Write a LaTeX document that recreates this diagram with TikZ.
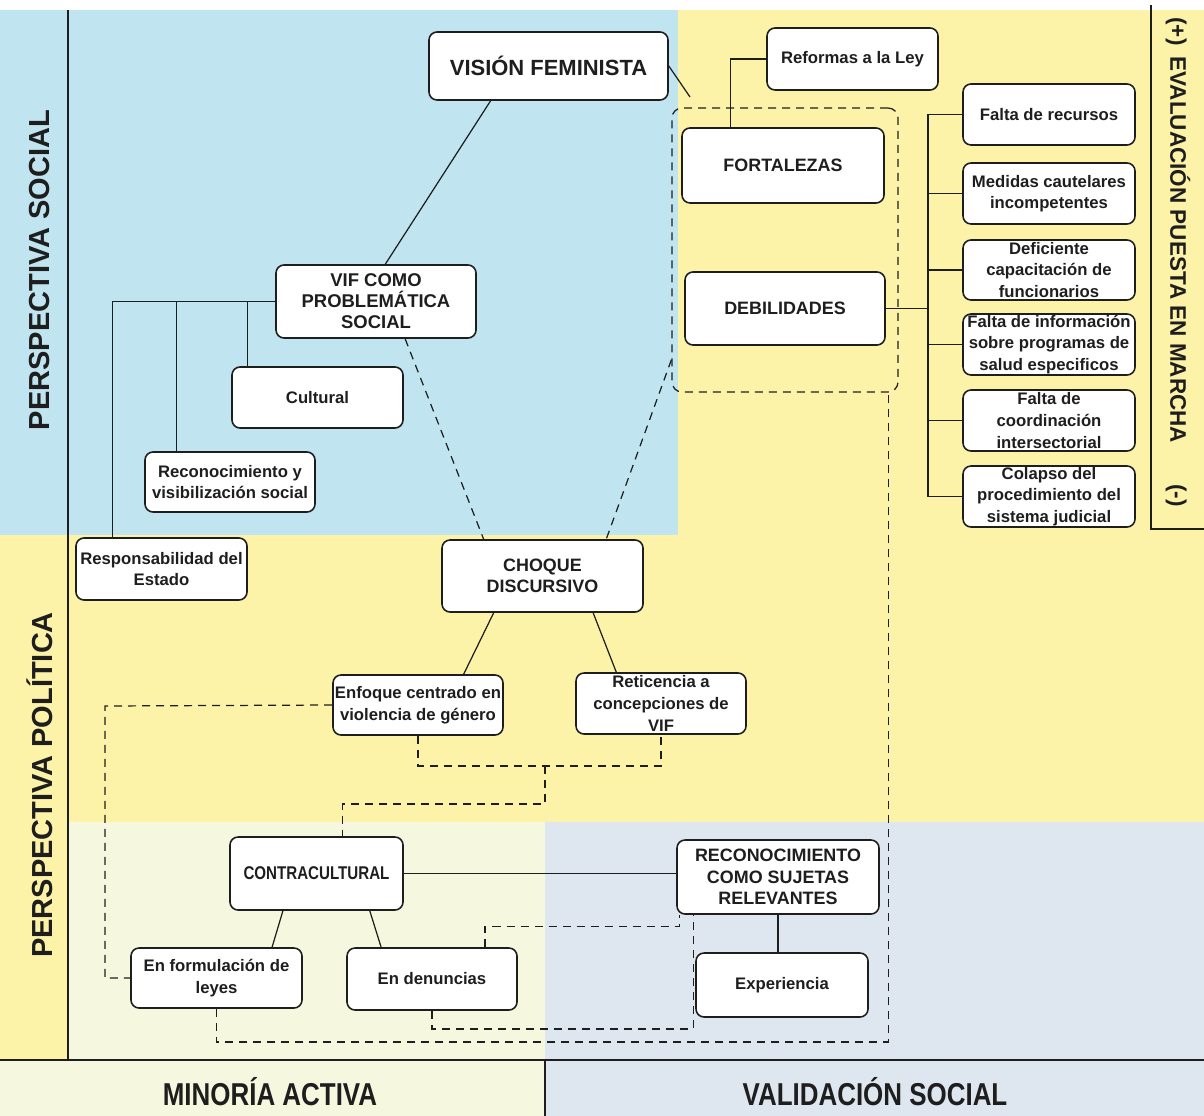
\documentclass[tikz,border=0pt]{standalone}
\usepackage{fontspec}
\setmainfont{Liberation Sans}
\newfontfamily\muyestrecha[FakeStretch=0.82]{Liberation Sans}
\usetikzlibrary{calc}
\definecolor{azulfondo}{RGB}{192,228,240}
\definecolor{amarillofondo}{RGB}{252,243,168}
\definecolor{verdefondo}{RGB}{245,248,222}
\definecolor{grisazul}{RGB}{222,230,240}
\definecolor{tinta}{RGB}{30,30,30}
\begin{document}
\begin{tikzpicture}[x=0.2mm,y=-0.2mm,
  caja/.style 2 args={draw=tinta,fill=white,rounded corners=1.6mm,line width=0.9pt,
    align=center,inner sep=0pt,text=tinta,minimum width=#1*0.2mm,minimum height=#2*0.2mm},
  chica/.style={font=\fontsize{9.5}{12.3}\selectfont\bfseries},
  grande/.style={font=\fontsize{10.2}{12.3}\selectfont\bfseries},
  lado/.style={text=tinta,font=\fontsize{16.5}{19}\selectfont\bfseries},
  linea/.style={draw=tinta,line width=0.7pt},
  trazos/.style={draw=tinta,line width=0.7pt,dash pattern=on 1.6mm off 1.2mm}]
% fondos
\fill[white] (0,0) rectangle (1204,1116);
\fill[azulfondo] (0,10) rectangle (678,535);
\fill[amarillofondo] (678,10) rectangle (1204,535);
\fill[amarillofondo] (0,535) rectangle (1204,822);
\fill[amarillofondo] (0,822) rectangle (68,1060);
\fill[verdefondo] (68,822) rectangle (545,1060);
\fill[grisazul] (545,822) rectangle (1204,1060);
\fill[verdefondo] (0,1060) rectangle (545,1116);
\fill[grisazul] (545,1060) rectangle (1204,1116);
\useasboundingbox (0,0) rectangle (1204,1116);
\draw[linea,line width=0.9pt] (68,10) -- (68,1060);
\draw[linea,line width=0.9pt] (0,1060) -- (1204,1060);
\draw[linea,line width=0.9pt] (545,1060) -- (545,1116);
\draw[linea,line width=0.9pt] (1151,5) -- (1151,529) -- (1204,529);
% ejes
\node[lado,rotate=90] (social) at (40,270) {PERSPECTIVA SOCIAL}; %label
\node[lado,rotate=90] (politica) at (40,785) {PERSPECTIVA POLÍTICA}; %label
\node[text=tinta,rotate=-90,font=\fontsize{12.8}{15}\selectfont\bfseries] (evaluacion) at (1178,262)
  {(+)\hspace{2.2mm}EVALUACIÓN PUESTA EN MARCHA\hspace{8.2mm}(-)}; %label
\node[text=tinta,font=\muyestrecha\fontsize{18}{21}\selectfont\bfseries] (minoria) at (270,1092) {MINORÍA ACTIVA}; %label
\node[text=tinta,font=\muyestrecha\fontsize{18}{21}\selectfont\bfseries] (validacion) at (875,1092) {VALIDACIÓN SOCIAL}; %label
% evaluacion
\node[trazos,rounded corners=2mm,minimum width=226*0.2mm,minimum height=284*0.2mm,inner sep=0pt] (grupo) at (785,250) {};
\node[caja={239}{68},font=\fontsize{12.5}{15}\selectfont\bfseries] (vision) at (548.5,66) {VISIÓN FEMINISTA};
\node[caja={171}{62},chica] (reformas) at (852.5,59) {Reformas a la Ley};
\node[caja={202}{75},grande] (fortalezas) at (783,165.5) {FORTALEZAS};
\node[caja={200}{73},grande] (debilidades) at (785,308.5) {DEBILIDADES};
\node[caja={172}{61},chica] (recursos) at (1049,114.5) {Falta de recursos};
\node[caja={172}{61},chica] (medidas) at (1049,193.5) {Medidas cautelares\\incompetentes};
\node[caja={172}{60},chica] (deficiente) at (1049,270) {Deficiente\\capacitación de\\funcionarios};
\node[caja={172}{61},chica] (informacion) at (1049,344.5) {Falta de información\\sobre programas de\\salud especificos};
\node[caja={172}{61},chica] (coordinacion) at (1049,420.5) {Falta de\\coordinación\\intersectorial};
\node[caja={172}{61},chica] (colapso) at (1049,496.5) {Colapso del\\procedimiento del\\sistema judicial};
% perspectiva social
\node[caja={200}{73},font=\fontsize{10.5}{12}\selectfont\bfseries] (vif) at (376,301.5) {VIF COMO\\PROBLEMÁTICA\\SOCIAL};
\node[caja={171}{61},chica] (cultural) at (317.5,397.5) {Cultural};
\node[caja={170}{60},chica] (recvis) at (230,482) {Reconocimiento y\\visibilización social};
\node[caja={171}{62},chica] (responsabilidad) at (161.5,569) {Responsabilidad del\\Estado};
% perspectiva politica
\node[caja={201}{72},grande] (choque) at (542.5,576) {CHOQUE\\DISCURSIVO};
\node[caja={170}{60},chica] (enfoque) at (418,705) {Enfoque centrado en\\violencia de género};
\node[caja={170}{61},chica] (reticencia) at (661,703.5) {Reticencia a\\concepciones de\\VIF};
\node[caja={173}{73},font=\muyestrecha\fontsize{10.5}{12.3}\selectfont\bfseries] (contracultural) at (316.5,873.5) {CONTRACULTURAL};
\node[caja={202}{74},grande] (reconocimiento) at (778,877) {RECONOCIMIENTO\\COMO SUJETAS\\RELEVANTES};
\node[caja={171}{60},chica] (formulacion) at (216.5,978) {En formulación de\\leyes};
\node[caja={170}{62},chica] (denuncias) at (432,979) {En denuncias};
\node[caja={172}{64},chica] (experiencia) at (782,985) {Experiencia};
% conectores
\coordinate (tronco) at (928,0);
\coordinate (fin) at (690,97);
\coordinate (cruce) at (545,766);
\coordinate (codo) at (545,804);
\coordinate (izq) at (105,706);
\coordinate (bajo1) at (0,1029);
\coordinate (bajo2) at (0,1042);
\draw[linea] (vision.211) -- (vif.76);
\draw[linea] (vision.east) -- (fin);
\draw[linea] (fortalezas.144) |- (reformas.west);
\draw[linea] (debilidades.east) -- (debilidades.east -| tronco);
\draw[linea] (recursos.west -| tronco) -- (colapso.west -| tronco);
\foreach \n in {recursos,medidas,deficiente,informacion,coordinacion,colapso}
  \draw[linea] (\n.west) -- (\n.west -| tronco);
\draw[linea] (vif.west) -| (responsabilidad.147);
\draw[linea] (recvis.150) |- (vif.west);
\draw[linea] (cultural.156) |- (vif.west);
\draw[trazos] (vif.308) -- (choque.148);
\draw[trazos] (grupo.224) -- (choque.30);
\draw[linea] (choque.217) -- (enfoque.34);
\draw[linea] (choque.324) -- (reticencia.145);
\draw[trazos] (enfoque.south) |- (cruce) -| (reticencia.south);
\draw[trazos] (cruce) -- (codo) -| (contracultural.55);
\draw[trazos] (enfoque.west) -- (izq) |- (formulacion.west);
\draw[linea] (contracultural.228) -- (formulacion.29);
\draw[linea] (contracultural.325) -- (denuncias.148);
\draw[linea] (contracultural.east) -- (contracultural.east -| reconocimiento.west);
\draw[linea] (reconocimiento.south) -- (reconocimiento.south |- experiencia.north);
\draw[trazos] (denuncias.31) |- ([yshift=-2.4mm]reconocimiento.201) -- (reconocimiento.201);
\draw[trazos] (denuncias.south) -- (denuncias.south |- bajo1) -| (reconocimiento.204);
\draw[trazos] (formulacion.south) -- (formulacion.south |- bajo2) -| (grupo.306);
\end{tikzpicture}
\end{document}
